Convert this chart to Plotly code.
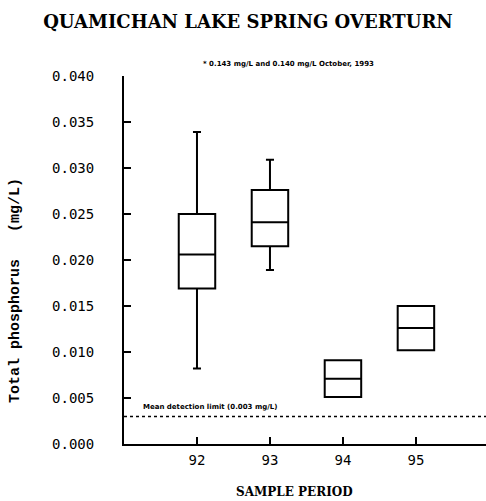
import plotly.graph_objects as go

periods = [92, 93, 94, 95]
q1 = [0.0169, 0.0215, 0.0051, 0.0102]
median = [0.0206, 0.0241, 0.0071, 0.0126]
q3 = [0.0250, 0.0276, 0.0091, 0.0150]
lower = [0.0082, 0.0189, 0.0051, 0.0102]
upper = [0.0339, 0.0309, 0.0091, 0.0150]
detection_limit = 0.003
y_ticks = [0.000, 0.005, 0.010, 0.015, 0.020, 0.025, 0.030, 0.035, 0.040]

fig = go.Figure()
fig.add_trace(go.Box(
    x=periods, q1=q1, median=median, q3=q3,
    lowerfence=lower, upperfence=upper,
    width=0.5, whiskerwidth=0.22,
    fillcolor="white", line=dict(color="black", width=2),
    boxpoints=False, showlegend=False, hoverinfo="skip",
))
fig.add_trace(go.Scatter(
    x=[91, 96], y=[detection_limit, detection_limit], mode="lines",
    line=dict(color="black", width=1.5, dash="3px,3px"), showlegend=False,
))

mono = "DejaVu Sans Mono"
L, T, B = 124, 76, 57
H = 501 - T - B
W = 486 - L
fig.update_layout(
    width=486, height=501,
    margin=dict(l=L, r=0, t=T, b=B),
    paper_bgcolor="white", plot_bgcolor="white",
    title=dict(text="<b>QUAMICHAN LAKE SPRING OVERTURN</b>", x=248/486, xanchor="center",
               y=1 - 22/501, yanchor="middle",
               font=dict(family="DejaVu Serif", size=18, color="black")),
    xaxis=dict(range=[91, 95.96], tickvals=periods, ticktext=[str(p) for p in periods],
               ticks="inside", ticklen=7, tickwidth=2, tickcolor="black",
               showline=True, linecolor="black", linewidth=2, showgrid=False, zeroline=False,
               ticklabelstandoff=2,
               tickfont=dict(family=mono, size=14, color="black")),
    yaxis=dict(range=[0, 0.040], tickvals=y_ticks, tickformat=".3f",
               ticks="inside", ticklen=7, tickwidth=2, tickcolor="black",
               showline=True, linecolor="black", linewidth=2, showgrid=False, zeroline=False,
               ticklabelstandoff=25,
               tickfont=dict(family=mono, size=14, color="black")),
    annotations=[
        dict(text="<b>SAMPLE PERIOD</b>", x=(294 - L) / W, y=(444 - 492) / H,
             xref="paper", yref="paper", xanchor="center", yanchor="middle",
             showarrow=False, font=dict(family="DejaVu Serif", size=12, color="black")),
        dict(text="<b>Total phosphorus   (mg/L)</b>", x=(15 - L) / W, y=(444 - 291) / H,
             xref="paper", yref="paper", xanchor="center", yanchor="middle", textangle=-90,
             showarrow=False, font=dict(family="Liberation Mono", size=15, color="black")),
        dict(text="<b>* 0.143 mg/L and 0.140 mg/L October, 1993</b>", x=(288 - L) / W,
             y=(444 - 64) / H, xref="paper", yref="paper", yanchor="middle", xanchor="center",
             showarrow=False, font=dict(family="DejaVu Sans", size=7, color="black")),
        dict(text="<b>Mean detection limit (0.003 mg/L)</b>", x=(141 - L) / W, y=(444 - 407) / H,
             xref="paper", yref="paper", xanchor="left", yanchor="middle",
             showarrow=False, font=dict(family="DejaVu Sans", size=7, color="black")),
    ],
)
fig.write_html("out.html")
